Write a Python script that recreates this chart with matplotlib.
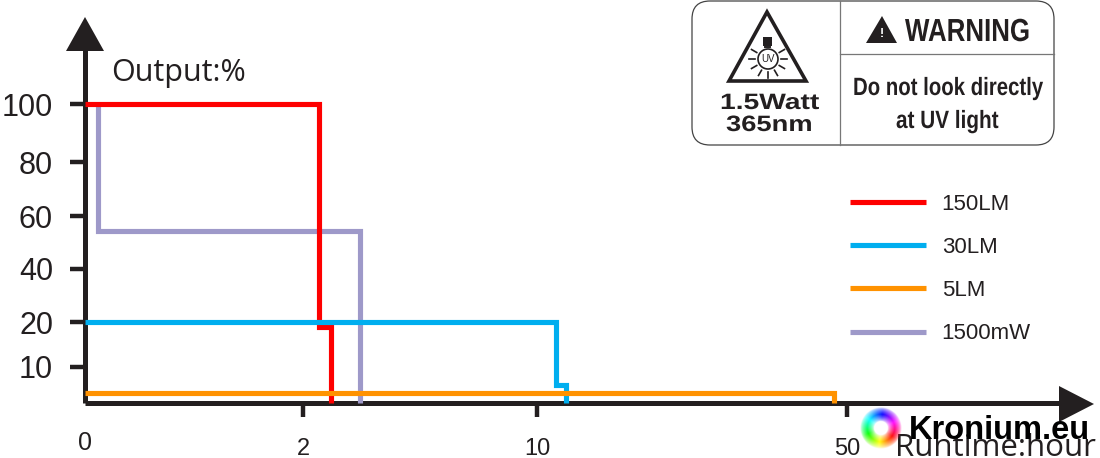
import colorsys

import matplotlib

matplotlib.use("Agg")
import matplotlib.pyplot as plt
import numpy as np
from matplotlib.lines import Line2D
from matplotlib.patches import Circle, FancyBboxPatch, Polygon, Rectangle
from matplotlib.patheffects import AbstractPathEffect
from matplotlib.transforms import Affine2D

plt.rcParams["font.family"] = ["Liberation Sans", "DejaVu Sans"]

INK = "#231f20"

# the drawn axis is not linear: each labelled value has its own pixel position
x_ticks = [0, 2, 10, 50]
x_tick_px = [85, 303, 537, 847]
y_ticks = [10, 20, 40, 60, 80, 100]
y_scale_values = [0, 10, 20, 40, 60, 80, 100]
y_tick_px = [403, 367, 322, 269, 216, 162, 104]

names = ["150LM", "30LM", "5LM", "1500mW"]
colors = ["#fe0000", "#00aeef", "#ff9200", "#9e99c9"]
x_150lm = [0, 2.55, 2.55, 2.97, 2.97]
y_150lm = [100, 100, 19, 19, 0]
x_30lm = [0, 12.45, 12.45, 13.7, 13.7]
y_30lm = [20, 20, 5, 5, 0]
x_5lm = [0, 48.3, 48.3]
y_5lm = [2.8, 2.8, 0]
x_1500mw = [0.12, 0.12, 3.95, 3.95]
y_1500mw = [100, 54.3, 54.3, 0]


class Stretch(AbstractPathEffect):
    """Squeeze or widen a text horizontally from its left edge (no narrow font here)."""

    def __init__(self, sx):
        super().__init__()
        self.sx = sx

    def draw_path(self, renderer, gc, tpath, affine, rgbFace=None):
        renderer.draw_path(gc, tpath, Affine2D().scale(self.sx, 1) + affine, rgbFace)


def x_forward(v):
    return np.interp(v, x_ticks, x_tick_px)


def x_inverse(p):
    return np.interp(p, x_tick_px, x_ticks)


def y_forward(v):
    return np.interp(v, y_scale_values, [-p for p in y_tick_px])


def y_inverse(p):
    return np.interp(p, [-q for q in y_tick_px], y_scale_values)


fig = plt.figure(figsize=(11.0, 4.58), dpi=100)

# pixel-coordinate layer for the arrows, sticker and watermark
over = fig.add_axes([0, 0, 1, 1], zorder=0)
over.set_xlim(0, 1100)
over.set_ylim(458, 0)
over.axis("off")

ax = fig.add_axes(
    [85 / 1100, (458 - 403) / 458, (847 - 85) / 1100, (403 - 104) / 458], zorder=1
)
ax.patch.set_visible(False)
ax.set_xscale("function", functions=(x_forward, x_inverse))
ax.set_yscale("function", functions=(y_forward, y_inverse))
ax.set_xlim(0, 50)
ax.set_ylim(0, 100)
for spine in ax.spines.values():
    spine.set_visible(False)

line_kw = dict(linewidth=3.7, solid_joinstyle="miter", solid_capstyle="butt", clip_on=False)
ax.plot(x_1500mw, y_1500mw, color=colors[3], **line_kw)
ax.plot(x_150lm, y_150lm, color=colors[0], **line_kw)
ax.plot(x_30lm, y_30lm, color=colors[1], **line_kw)
ax.plot(x_5lm, y_5lm, color=colors[2], **line_kw)

ax.set_yticks(y_ticks, [str(v) for v in y_ticks])
ax.set_xticks(x_ticks, [str(v) for v in x_ticks])
ax.minorticks_off()
ax.tick_params(axis="y", length=11, width=3.2, color=INK, labelsize=22, labelcolor=INK, pad=12)
ax.tick_params(axis="x", length=10, width=3.2, color=INK, labelsize=17, labelcolor=INK, pad=15)
first_x = ax.xaxis.get_major_ticks()[0]
first_x.tick1line.set_visible(False)
first_x.set_pad(10)
first_x.label1.set_fontsize(18)

handles = [Line2D([], [], color=c, linewidth=3.7, solid_capstyle="butt") for c in colors]
ax.legend(
    handles,
    names,
    loc="upper left",
    bbox_to_anchor=(843 / 1100, (458 - 187) / 458),
    bbox_transform=fig.transFigure,
    frameon=False,
    fontsize=16,
    labelcolor=INK,
    handlelength=3.42,
    handletextpad=0.72,
    labelspacing=1.0,
    borderpad=0.3,
    borderaxespad=0,
)

# axis arrows
over.plot([85, 85], [45, 403], color=INK, lw=3.6, solid_capstyle="butt")
over.plot([85, 1070], [403, 403], color=INK, lw=3.6, solid_capstyle="butt")
over.add_patch(Polygon([[85, 17], [66, 51], [104, 51]], color=INK, lw=0))
over.add_patch(Polygon([[1094, 404], [1059, 386], [1059, 422]], color=INK, lw=0))
over.text(111, 81, "Output:%", fontsize=22, color=INK, family="Open Sans", va="baseline")
over.text(895, 456, "Runtime:hour", fontsize=22.5, color=INK, family="Open Sans", va="baseline")

# warning sticker
over.add_patch(
    FancyBboxPatch(
        (692, 1), 362, 144, boxstyle="round,pad=0,rounding_size=18",
        fc="none", ec="#444444", lw=0.9,
    )
)
over.plot([840, 840], [1, 145], color="#777777", lw=0.9)
over.plot([840, 1054], [54, 54], color="#777777", lw=0.9)

over.add_patch(Polygon([[767, 12], [729, 81], [806, 81]], fc="white", ec=INK, lw=2.6, joinstyle="miter"))
over.add_patch(Circle((768, 59), 10, fc="white", ec=INK, lw=1.2))
over.add_patch(Rectangle((763, 37), 9, 9, color=INK, lw=0))
over.plot([765, 770], [47, 47], color=INK, lw=1.4)
over.text(768, 59.5, "UV", fontsize=7, color=INK, ha="center", va="center")
for angle in range(0, 360, 30):
    if angle in (240, 270, 300):
        continue
    ca, sa = np.cos(np.radians(angle)), np.sin(np.radians(angle))
    over.plot([768 + 13 * ca, 768 + 19 * ca], [59 + 13 * sa, 59 + 19 * sa], color=INK, lw=1.2)
for label, left, base, sx in [("1.5Watt", 720, 109, 1.27), ("365nm", 726, 131, 1.23)]:
    over.text(left, base, label, fontsize=16, fontweight="bold", color=INK, va="baseline",
              path_effects=[Stretch(sx)])

over.add_patch(Polygon([[882, 16], [866, 43], [897, 43]], color=INK, lw=0))
over.text(881.5, 34, "!", fontsize=9, fontweight="bold", color="white", ha="center", va="center")
for label, left, base, size, sx in [
    ("WARNING", 905, 41, 23, 0.81),
    ("Do not look directly", 853, 95, 18, 0.815),
    ("at UV light", 896, 128, 18, 0.83),
]:
    over.text(left, base, label, fontsize=size, fontweight="bold", color=INK, va="baseline",
              path_effects=[Stretch(sx)])

# watermark ring, hue runs round the angle
n = 80
gx, gy = np.meshgrid(np.linspace(-1, 1, n), np.linspace(-1, 1, n))
radius = np.hypot(gx, gy)
ring = np.zeros((n, n, 4))
for i in range(n):
    for j in range(n):
        hue = (np.arctan2(gy[i, j], gx[i, j]) / (2 * np.pi) + 0.9) % 1.0
        ring[i, j, :3] = colorsys.hsv_to_rgb(hue, 0.95, 1.0)
ring[:, :, 3] = np.clip(1 - np.abs(radius - 0.66) / 0.33, 0, 1) ** 0.6
over.imshow(ring, extent=(860, 902, 449, 407), zorder=3, interpolation="bilinear")
over.set_xlim(0, 1100)
over.set_ylim(458, 0)
over.set_aspect("auto")
over.text(909, 439, "Kronium.eu", fontsize=23.5, fontweight="bold", color="black", va="baseline", zorder=4)

fig.savefig("out.png", dpi=100)
plt.close(fig)
